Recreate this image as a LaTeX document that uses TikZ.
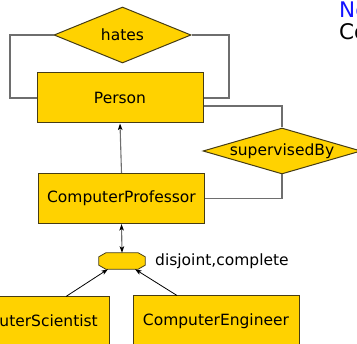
\documentclass[tikz,border=0pt]{standalone}
\usepackage{fontspec}
\setmainfont{DejaVu Sans}
\usetikzlibrary{shapes.geometric,arrows.meta}
\definecolor{entfill}{RGB}{255,210,0}
\definecolor{entline}{RGB}{70,60,20}
\definecolor{linkgray}{RGB}{110,110,110}
\definecolor{noteblue}{RGB}{20,20,255}
\begin{document}
\begin{tikzpicture}[x=1pt,y=-1pt,
  >={Stealth[length=6.5pt,width=4.5pt,inset=1.5pt,black]},
  label font/.style={font=\fontsize{15.5}{18}\selectfont},
  note font/.style={font=\fontsize{21.5}{24}\selectfont},
  entity/.style={draw=entline,fill=entfill,line width=1pt,
    minimum width=166pt,minimum height=50pt,inner sep=0pt,label font},
  relation/.style={diamond,draw=entline,fill=entfill,line width=1pt,
    inner sep=0pt,label font},
  link/.style={draw=linkgray,line width=1.1pt},
  isa/.style={draw=black,line width=0.8pt}
]
\useasboundingbox (0,0) rectangle (357,344);
\clip (0,0) rectangle (357,344);

% relationships and entities
\node[relation,minimum width=137pt,minimum height=56pt,shape aspect=2.45] (hates) at (122.5,35) {hates};
\node[entity] (person) at (120,98) {Person};
\node[relation,minimum width=158pt,minimum height=46pt,shape aspect=3.43] (sup) at (282,151) {supervisedBy};
\node[entity] (prof) at (121.5,198.5) {ComputerProfessor};
\node[entity] (sci) at (26,322) {ComputerScientist};
\node[entity] (eng) at (216,321) {ComputerEngineer};

% generalisation hub (flattened octagon)
\node[minimum width=46pt,minimum height=16pt,inner sep=0pt] (gen) at (122,261) {};
\path[draw=entline,fill=entfill,line width=0.8pt]
  ([xshift=7pt]gen.north west) -- ([xshift=-7pt]gen.north east)
  -- ([yshift=-4pt]gen.north east) -- ([yshift=4pt]gen.south east)
  -- ([xshift=-7pt]gen.south east) -- ([xshift=7pt]gen.south west)
  -- ([yshift=4pt]gen.south west) -- ([yshift=-4pt]gen.north west) -- cycle;
\node[anchor=west,label font,inner sep=0pt] (constr) at (155,261) {disjoint,complete};

% notes at the top right
\node[anchor=base west,inner sep=0pt,text=noteblue,note font] (note1) at (339,18) {No};
\node[anchor=base west,inner sep=0pt,note font] (note2) at (339,40) {Co};

% bend points of the relationship links
\coordinate (loopL) at (10,98);
\coordinate (loopR) at (229,98);

% relationship links
\draw[link] (hates.west) -| (loopL) -- (person.west);
\draw[link] (hates.east) -| (loopR) -- (person.east);
\draw[link] ([yshift=-8pt]person.east) -| (sup.north);
\draw[link] (sup.south) |- (prof.east);

% inheritance
\draw[link,->] (prof.north) -- (person.south);
\draw[link,<->] (prof.south) -- (gen.north);
\draw[isa,->] ([xshift=40pt]sci.north) -- ([xshift=-14pt]gen.south);
\draw[isa,->] ([xshift=-39pt]eng.north) -- ([xshift=13pt]gen.south);
\end{tikzpicture}
\end{document}
